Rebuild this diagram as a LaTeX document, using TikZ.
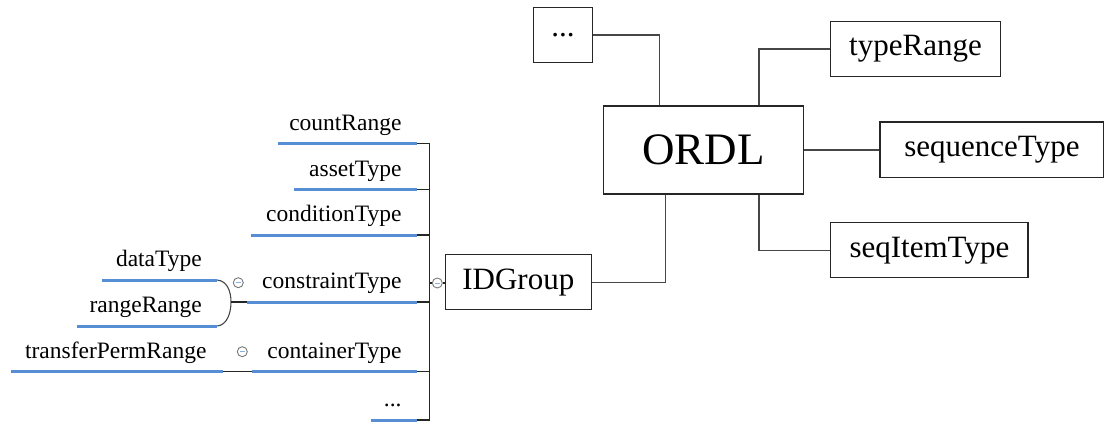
\documentclass[tikz,border=0pt]{standalone}
\usepackage{fontspec}
\setmainfont{Liberation Serif}
\definecolor{tblue}{RGB}{86,142,214}
\definecolor{tline}{RGB}{70,70,70}
\definecolor{tgray}{RGB}{120,120,120}
\begin{document}
\begin{tikzpicture}[x=1pt,y=-1pt,
  box/.style={draw=black!85, line width=1.2pt, inner sep=0pt, font=\fontsize{31}{36}\selectfont},
  conn/.style={draw=tline, line width=1.3pt},
  lbl/.style={anchor=base east, inner sep=0pt, font=\fontsize{23.5}{28}\selectfont},
  uline/.style={draw=tblue, line width=3pt},
  tline/.style={draw=black!85, line width=1.1pt},
  toggle/.style={circle, draw=tgray, line width=0.9pt, minimum size=10pt, inner sep=0pt, fill=white,
    path picture={\draw[tblue!70, line width=1pt] ([xshift=-2.8pt]path picture bounding box.center) -- ([xshift=2.8pt]path picture bounding box.center);}}
]
\useasboundingbox (0,0) rectangle (1105,421);

% ---- right part: boxes ----
\node[box, minimum width=59pt, minimum height=55.4pt] (dots) at (563.1,35) {...};
\node[box, minimum width=200pt, minimum height=88pt, font=\fontsize{45}{50}\selectfont] (ORDL) at (703.3,150) {ORDL};
\node[box, minimum width=169.5pt, minimum height=55.4pt] (typeRange) at (915.5,49) {typeRange};
\node[box, minimum width=223.7pt, minimum height=55.3pt] (sequenceType) at (991.9,149.7) {sequenceType};
\node[box, minimum width=197.3pt, minimum height=55pt] (seqItemType) at (929.4,250.2) {seqItemType};
\node[box, minimum width=146pt, minimum height=55pt] (IDGroup) at (518.3,282.2) {IDGroup};

\draw[conn] (dots.east) -| ([xshift=57pt]ORDL.north west);
\draw[conn] (typeRange.west) -| ([xshift=156.2pt]ORDL.north west);
\draw[conn] (ORDL.east) -- (sequenceType.west |- ORDL.east);
\draw[conn] (seqItemType.west) -| ([xshift=156.2pt]ORDL.south west);
\draw[conn] (IDGroup.east) -| ([xshift=62.7pt]ORDL.south west);

% ---- left tree ----
\coordinate (vtop) at (429.3,143.3);
\coordinate (vbot) at (429.3,421);
\draw[tline] (vtop) -- (vbot);

\node[toggle] (tg0) at (437.3,283) {};
\draw[tline] (vtop |- tg0) -- (tg0.west);
\draw[tline] (tg0.east) -- (IDGroup.west |- tg0);

% first level labels
\node[lbl] (countRange) at (401.7,130.4) {countRange};
\node[lbl] (assetType) at (401.7,176) {assetType};
\node[lbl] (conditionType) at (401.7,221.7) {conditionType};
\node[lbl] (constraintType) at (401.7,288.7) {constraintType};
\node[lbl] (containerType) at (401.7,358) {containerType};
\node[lbl] (more) at (401.7,406.7) {...};

% underlines of first level
\coordinate (u1a) at (278,143.7);   \coordinate (u1b) at (417.3,143.7);
\coordinate (u2a) at (294,189.3);   \coordinate (u2b) at (417.3,189.3);
\coordinate (u3a) at (251,235);     \coordinate (u3b) at (417.3,235);
\coordinate (u4a) at (247.3,302);   \coordinate (u4b) at (417.3,302);
\coordinate (u5a) at (252.3,371.3); \coordinate (u5b) at (417.3,371.3);
\coordinate (u6a) at (370.7,420);   \coordinate (u6b) at (417.3,420);
\foreach \i in {1,...,6}{
  \draw[uline] (u\i a) -- (u\i b);
  \draw[tline] (u\i b) -- (vtop |- u\i b);
}

% second level: constraintType children
\node[lbl] (dataType) at (202,266.7) {dataType};
\node[lbl] (rangeRange) at (202,312.7) {rangeRange};
\coordinate (d1a) at (101.7,280); \coordinate (d1b) at (217.3,280);
\coordinate (d2a) at (77.3,326);  \coordinate (d2b) at (217.3,326);
\coordinate (br) at (231,302);
\draw[uline] (d1a) -- (d1b);
\draw[uline] (d2a) -- (d2b);
\draw[draw=tline, line width=1.1pt] (d1b) .. controls (227,281) and (231,291) .. (br)
  .. controls (231,313) and (227,325) .. (d2b);
\draw[tline] (br) -- (u4a);
\node[toggle] (tg1) at (238.3,282.7) {};

% second level: containerType child
\node[lbl] (transferPermRange) at (206.7,358) {transferPermRange};
\coordinate (t1a) at (11,371.3); \coordinate (t1b) at (222.7,371.3);
\draw[uline] (t1a) -- (t1b);
\draw[tline] (t1b) -- (u5a);
\node[toggle] (tg2) at (242.3,351.7) {};
\end{tikzpicture}
\end{document}
